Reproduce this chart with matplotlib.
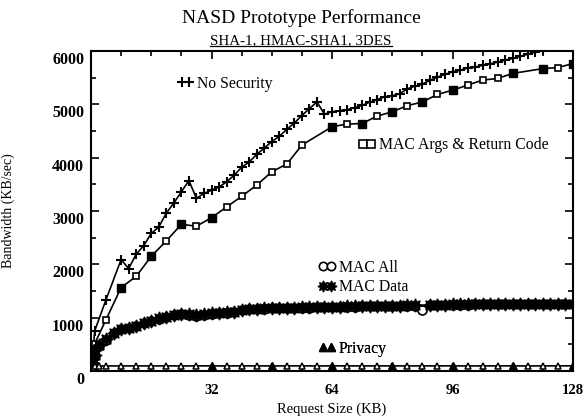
import numpy as np
import matplotlib
matplotlib.use("Agg")
from matplotlib import pyplot as plt
from matplotlib.lines import Line2D
import matplotlib.transforms as mtransforms

# values
ns_x = [0.5, 1, 4, 8, 10, 12, 14, 16, 18, 20, 22, 24, 26, 28, 30, 32, 34, 36, 38, 40,
        42, 44, 46, 48, 50, 52, 54, 56, 58, 60, 62, 64, 66, 68, 70, 72, 74, 76, 78, 80,
        82, 84, 86, 88, 90, 92, 94, 96, 98, 100, 102, 104, 106, 108, 110, 112, 114, 116, 118, 120]
ns_y = [350, 757, 1340, 2090, 1920, 2190, 2350, 2580, 2700, 2960, 3150, 3360, 3570, 3240, 3330, 3390, 3450, 3545, 3670, 3820,
        3920, 4060, 4180, 4300, 4400, 4530, 4650, 4790, 4920, 5045, 4815, 4860, 4880, 4900, 4940, 4980, 5040, 5090, 5140, 5160,
        5200, 5290, 5340, 5380, 5450, 5510, 5560, 5610, 5640, 5680, 5700, 5730, 5760, 5790, 5830, 5860, 5900, 5940, 5980, 6020]

args_x = [0.5, 1, 4, 8, 12, 16, 20, 24, 28, 32, 36, 40, 44, 48, 52, 56, 64, 68, 72, 76,
          80, 84, 88, 92, 96, 100, 104, 108, 112, 120, 124, 128]
args_y = [200, 515, 965, 1565, 1775, 2150, 2440, 2750, 2715, 2875, 3075, 3275, 3485, 3735, 3880, 4235, 4580, 4630, 4640, 4780,
          4860, 4975, 5045, 5185, 5265, 5360, 5455, 5485, 5580, 5670, 5690, 5765]
args_filled = [8, 16, 24, 32, 64, 72, 80, 88, 96, 112, 120, 128]

mac_x = [0.25, 0.5, 1, 2, 4, 6, 8, 10, 12, 14, 16, 18, 20, 22, 24, 26, 28, 30, 32, 34,
         36, 38, 40, 42, 44, 46, 48, 50, 52, 54, 56, 58, 60, 62, 64, 66, 68, 70, 72, 74,
         76, 78, 80, 82, 84, 86, 88, 90, 92, 94, 96, 98, 100, 102, 104, 106, 108, 110, 112, 114,
         116, 118, 120, 122, 124, 126, 128]
macdata_y = [60, 150, 300, 480, 600, 720, 790, 810, 840, 900, 940, 985, 1020, 1050, 1065, 1060, 1045, 1060, 1080, 1095,
             1100, 1115, 1150, 1165, 1170, 1175, 1180, 1185, 1185, 1190, 1195, 1195, 1200, 1200, 1205, 1205, 1210, 1210, 1215, 1215,
             1220, 1220, 1225, 1225, 1230, 1230, 1230, 1240, 1245, 1245, 1250, 1250, 1250, 1252, 1254, 1255, 1256, 1257, 1258, 1259,
             1260, 1260, 1261, 1262, 1263, 1264, 1265]
macall_y = [50, 140, 290, 470, 590, 715, 785, 805, 835, 895, 935, 980, 1015, 1045, 1060, 1055, 1040, 1055, 1075, 1090,
            1095, 1110, 1145, 1160, 1165, 1170, 1175, 1180, 1180, 1185, 1190, 1190, 1195, 1195, 1200, 1200, 1205, 1205, 1210, 1210,
            1215, 1215, 1220, 1220, 1225, 1225, 1140, 1235, 1240, 1240, 1245, 1245, 1245, 1248, 1250, 1251, 1252, 1253, 1254, 1255,
            1256, 1256, 1257, 1258, 1259, 1260, 1262]

priv_x = [0.25, 0.5, 1, 2, 4, 8, 12, 16, 20, 24, 28, 32, 36, 40, 44, 48, 52, 56, 60, 64,
          68, 72, 76, 80, 84, 88, 92, 96, 100, 104, 108, 112, 116, 120, 124, 128]
priv_y = [30, 60, 85, 92, 95, 95, 96, 95, 96, 95, 96, 96, 95, 96, 96, 95, 96, 96, 95, 96,
          96, 95, 96, 96, 95, 96, 96, 96, 95, 96, 96, 96, 95, 96, 96, 97]
priv_filled = [32, 48, 64, 80, 96, 112, 128]

x_ticks = [32, 64, 96, 128]
y_ticks = [0, 1000, 2000, 3000, 4000, 5000, 6000]

plt.rcParams['font.family'] = ['Liberation Serif', 'DejaVu Serif']

fig = plt.figure(figsize=(5.84, 4.17), dpi=100)
ax = fig.add_axes([91 / 584, 1 - 371 / 417, 482 / 584, 320 / 417])

lw = 1.2
ax.plot(ns_x, ns_y, color='k', lw=lw, marker='+', ms=7, mew=1.5)

ax.plot(args_x, args_y, color='k', lw=lw, marker='s', ms=5, mfc='white', mec='k', mew=1.2)
fx = [x for x in args_x if x in args_filled]
fy = [args_y[args_x.index(x)] for x in fx]
ax.plot(fx, fy, ls='none', marker='s', ms=6, mfc='k', mec='k')

ax.plot(mac_x, macall_y, color='k', lw=lw, marker='o', ms=6.5, mfc='white', mec='k', mew=1.2)
ax.plot([x for x in mac_x if x != 88], [y for x, y in zip(mac_x, macdata_y) if x != 88],
        color='k', lw=lw, marker=(8, 1, 0), ms=9.5, mfc='k', mec='k')

ax.plot(priv_x, priv_y, color='k', lw=lw, marker='^', ms=5, mfc='white', mec='k', mew=1.1)
px = [x for x in priv_x if x in priv_filled]
py = [priv_y[priv_x.index(x)] for x in px]
ax.plot(px, py, ls='none', marker='^', ms=5.5, mfc='k', mec='k')

ax.set_xlim(0, 128)
ax.set_ylim(0, 6000)
ax.set_xticks(x_ticks)
ax.set_xticks(np.arange(0, 129, 8), minor=True)
ax.set_yticks(y_ticks)
ax.set_yticks(np.arange(0, 6001, 500), minor=True)
ax.tick_params(which='both', direction='in', top=True, right=True, width=1.2)
ax.tick_params(which='major', length=6)
ax.tick_params(which='minor', length=3.5)
ax.tick_params(axis='x', pad=9, labelsize=10.5)
ax.tick_params(axis='y', pad=5, labelsize=11.5)
for lab in ax.get_yticklabels() + ax.get_xticklabels():
    lab.set_fontweight('bold')
off = mtransforms.ScaledTranslation(0, -0.07, fig.dpi_scale_trans)
for lab in ax.get_yticklabels():
    lab.set_transform(lab.get_transform() + off)
for s in ax.spines.values():
    s.set_linewidth(1.5)

ax.set_ylabel('Bandwidth (KB/sec)', fontsize=10)
ax.yaxis.set_label_coords(-0.158, 0.5)
ax.set_xlabel('Request Size (KB)', fontsize=10.5)
ax.xaxis.set_label_coords(0.5, -0.1)

fig.text(301 / 584, 1 - 18 / 417, 'NASD Prototype Performance', ha='center', va='center', fontsize=14)
sub = fig.text(301 / 584, 1 - 41 / 417, 'SHA-1, HMAC-SHA1, 3DES', ha='center', va='center', fontsize=10.8)

# in-plot labels, one small legend each (two markers side by side)
entries = [
    (Line2D([], [], ls='none', marker='+', ms=7, mew=1.5, color='k'), 'No Security', (0.178, 0.897)),
    (Line2D([], [], ls='none', marker='s', ms=5.5, mfc='white', mec='k', mew=1.2), 'MAC Args & Return Code', (0.555, 0.706)),
    (Line2D([], [], ls='none', marker='o', ms=6, mfc='white', mec='k', mew=1.2), 'MAC All', (0.472, 0.322)),
    (Line2D([], [], ls='none', marker=(8, 1, 0), ms=8, mfc='k', mec='k'), 'MAC Data', (0.472, 0.262)),
    (Line2D([], [], ls='none', marker='^', ms=6, mfc='k', mec='k'), 'Privacy', (0.472, 0.069)),
]
for h, lab, pos in entries:
    leg = ax.legend([h], [lab], loc='center left', bbox_to_anchor=pos, frameon=False,
                    numpoints=2, handlelength=1.1, handletextpad=0.2, borderpad=0,
                    borderaxespad=0, fontsize=11.3)
    ax.add_artist(leg)

fig.canvas.draw()
bb = sub.get_window_extent().transformed(fig.transFigure.inverted())
fig.add_artist(Line2D([bb.x0, bb.x1], [bb.y0 + 0.004, bb.y0 + 0.004], color='k', lw=0.9,
                      transform=fig.transFigure))

plt.savefig("out.png", dpi=100)
